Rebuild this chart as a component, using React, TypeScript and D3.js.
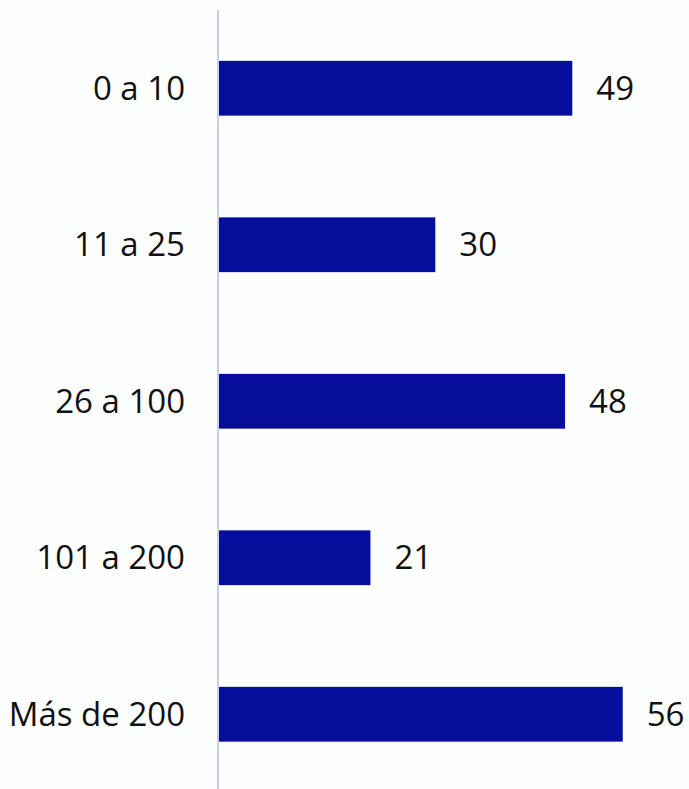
import React from "react";
import * as d3 from "d3";

const categories = ["0 a 10", "11 a 25", "26 a 100", "101 a 200", "Más de 200"];
const values = [49, 30, 48, 21, 56];

const W = 689;
const H = 789;
const axisX = 218;

export default function App() {
  const x = d3.scaleLinear().domain([0, 60]).range([axisX + 1, axisX + 1 + 60 * 7.21]);
  const y = d3
    .scaleBand<string>()
    .domain(categories)
    .range([10, 792.5])
    .paddingInner(0.65)
    .paddingOuter(0.325);
  const font = "'Open Sans', 'Noto Sans', sans-serif";
  return (
    <svg
      width={W}
      height={H}
      style={{ position: "absolute", left: 0, top: 0, background: "#fdfefe" }}
    >
      <line x1={axisX} x2={axisX} y1={10} y2={H} stroke="#ccccf6" strokeWidth={2} />
      {categories.map((c, i) => {
        const yy = y(c)!;
        const bw = y.bandwidth();
        const cy = yy + bw / 2;
        return (
          <g key={c}>
            <rect x={x(0)} y={yy} width={x(values[i]) - x(0)} height={bw} fill="#080e9c" />
            <text
              x={185}
              y={cy}
              dy="0.35em"
              textAnchor="end"
              fontFamily={font}
              fontSize={33}
              fill="#111"
            >
              {c}
            </text>
            <text
              x={x(values[i]) + 24}
              y={cy}
              dy="0.35em"
              textAnchor="start"
              fontFamily={font}
              fontSize={33}
              fill="#111"
            >
              {values[i]}
            </text>
          </g>
        );
      })}
    </svg>
  );
}
